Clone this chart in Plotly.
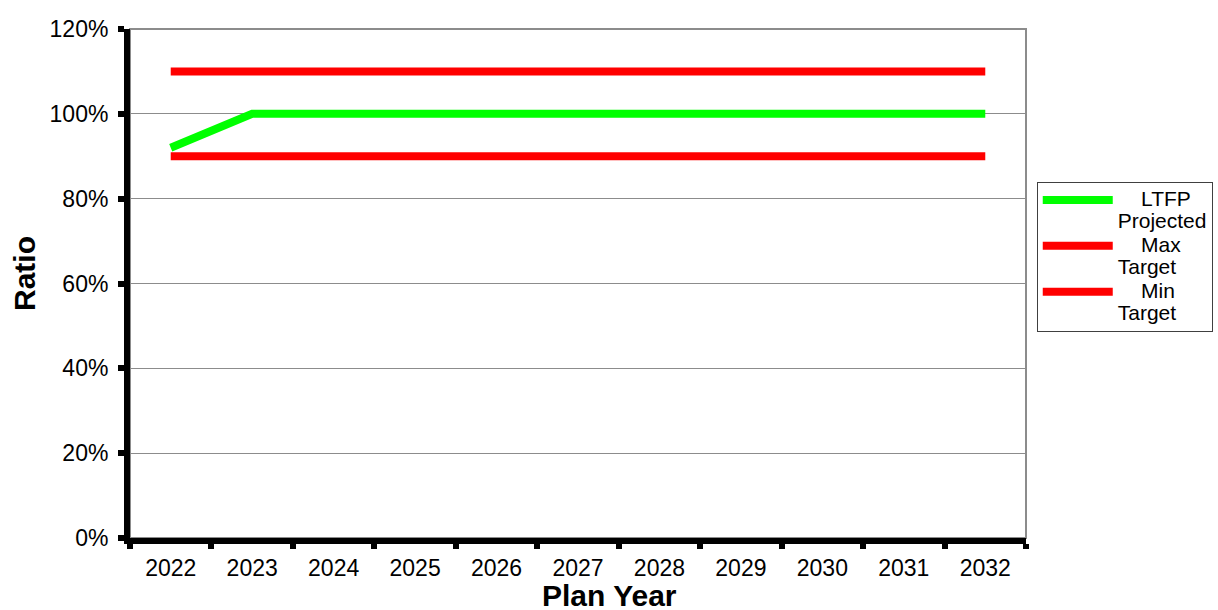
import plotly.graph_objects as go

years = ["2022", "2023", "2024", "2025", "2026", "2027", "2028", "2029", "2030", "2031", "2032"]
ltfp_projected = [92, 100, 100, 100, 100, 100, 100, 100, 100, 100, 100]
max_target = [110, 110, 110, 110, 110, 110, 110, 110, 110, 110, 110]
min_target = [90, 90, 90, 90, 90, 90, 90, 90, 90, 90, 90]

FONT = "Liberation Sans, Arial, sans-serif"
NB = "\u00a0"


def legend_label(first, second):
    # larger glyphs than the legend's base size keep the line spacing tight
    return ("<span style='font-size:21px'>" + NB * 4 + first + "</span><br>"
            "<span style='font-size:21px'>" + second + "</span>")


fig = go.Figure()
fig.add_trace(go.Scatter(x=years, y=ltfp_projected, mode="lines",
                         name=legend_label("LTFP", "Projected"),
                         line=dict(color="#00FF00", width=8)))
fig.add_trace(go.Scatter(x=years, y=max_target, mode="lines",
                         name=legend_label("Max", "Target"),
                         line=dict(color="#FF0000", width=8)))
fig.add_trace(go.Scatter(x=years, y=min_target, mode="lines",
                         name=legend_label("Min", "Target"),
                         line=dict(color="#FF0000", width=8)))

# grey frame on top and right of the plot area
fig.add_shape(type="rect", xref="paper", yref="paper", x0=0, x1=1, y0=0, y1=1,
              line=dict(color="#8C8C8C", width=2), layer="below")

fig.update_layout(
    width=1218, height=610,
    margin=dict(l=130, r=192, t=29, b=72, autoexpand=False),
    paper_bgcolor="white", plot_bgcolor="white",
    font=dict(family=FONT, size=23, color="black"),
    showlegend=True,
    legend=dict(x=1.012, xanchor="left", y=0.70, yanchor="top",
                bordercolor="#404040", borderwidth=1, bgcolor="white",
                font=dict(size=16.5), valign="top", tracegroupgap=0,
                itemwidth=70),
    xaxis=dict(type="category", range=[-0.5, 10.5], showgrid=False,
               showline=True, linecolor="black", linewidth=6,
               ticks="outside", tickson="boundaries", ticklen=5, tickwidth=6,
               tickcolor="black", ticklabelstandoff=4, zeroline=False),
    yaxis=dict(range=[0, 120], dtick=20, ticksuffix="%",
               showgrid=True, gridcolor="#8C8C8C", gridwidth=1,
               showline=True, linecolor="black", linewidth=6,
               ticks="outside", ticklen=6, tickwidth=6, tickcolor="black",
               ticklabelstandoff=5, zeroline=False),
    annotations=[
        dict(text="<b>Plan Year</b>", xref="paper", yref="paper",
             x=0.5346, y=-0.113, xanchor="center", yanchor="middle",
             showarrow=False, font=dict(size=30)),
        dict(text="<b>Ratio</b>", xref="paper", yref="paper",
             x=-0.117, y=0.519, xanchor="center", yanchor="middle",
             textangle=-90, showarrow=False, font=dict(size=30)),
    ],
)

fig.write_html("out.html")
